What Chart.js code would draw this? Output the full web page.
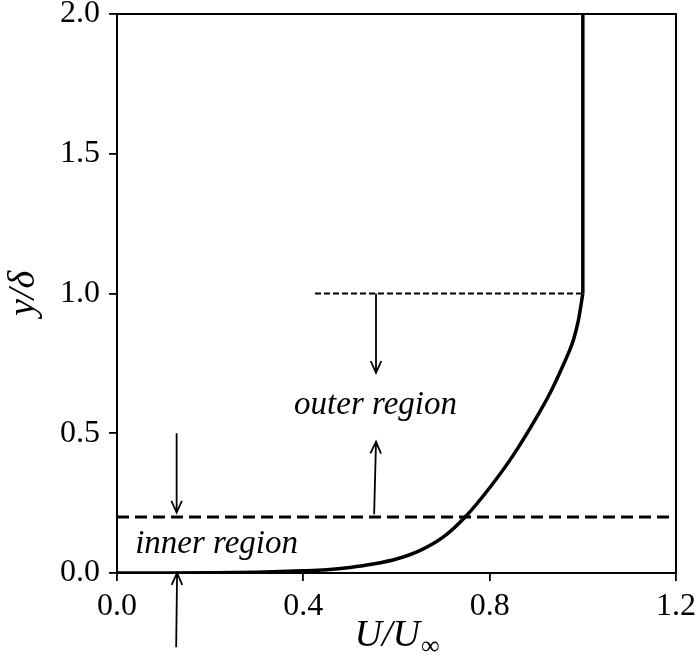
<!DOCTYPE html>
<html>
<head>
<meta charset="utf-8">
<script src="https://cdn.jsdelivr.net/npm/chart.js@4/dist/chart.umd.min.js"></script>
<style>
html, body { margin: 0; padding: 0; background: #fff; }
#wrap { width: 698px; height: 666px; }
</style>
</head>
<body>
<div id="wrap"><canvas id="chart"></canvas></div>
<script>
// mean velocity profile
const profileU = [0, 0.1, 0.2, 0.3, 0.4, 0.45, 0.5, 0.55, 0.6, 0.65, 0.7, 0.75, 0.8, 0.85, 0.9, 0.93, 0.95, 0.97, 0.98, 0.99, 1.0]
const profileY = [0, 0.0002, 0.001, 0.003, 0.008, 0.012, 0.02, 0.032, 0.05, 0.08, 0.128, 0.205, 0.305, 0.42, 0.555, 0.645, 0.715, 0.79, 0.835, 0.9, 1.0]
// free stream above the boundary layer edge
const edgeU = [1.0, 1.0]
const edgeY = [1.0, 2.0]
// thin dashed line at y/delta = 1 and thick dashed line at y/delta = 0.2
const outerU = [0.425, 1.0]
const outerY = [1.0, 1.0]
const innerU = [0, 1.2]
const innerY = [0.2, 0.2]

const xTicks = [0, 0.4, 0.8, 1.2]
const yTicks = [0, 0.5, 1.0, 1.5, 2.0]

// arrows, start -> tip, in data units
const arrowFromU = [0.556, 0.552, 0.128, 0.127]
const arrowFromY = [1.0, 0.21, 0.5, -0.266]
const arrowToU = [0.556, 0.556, 0.128, 0.129]
const arrowToY = [0.716, 0.47, 0.216, 0.0]

const labelText = ['outer region', 'inner region']
const labelU = [0.555, 0.039]
const labelY = [0.57, 0.07]
const labelAlign = ['center', 'left']

const serif = '"Liberation Serif", "DejaVu Serif", serif'

const zip = (xs, ys) => xs.map((x, i) => ({ x: x, y: ys[i] }))

// box round the axes, arrows, region labels and axis titles
const extras = {
    id: 'extras',
    afterDraw(chart) {
        const ctx = chart.ctx
        const a = chart.chartArea
        const sx = chart.scales.x
        const sy = chart.scales.y
        ctx.save()
        ctx.strokeStyle = '#000'
        ctx.fillStyle = '#000'
        ctx.lineWidth = 2
        ctx.strokeRect(a.left, a.top, a.right - a.left, a.bottom - a.top)

        // arrows
        ctx.lineWidth = 1.8
        for (let i = 0; i < arrowFromU.length; i++) {
            const x0 = sx.getPixelForValue(arrowFromU[i])
            const y0 = sy.getPixelForValue(arrowFromY[i])
            const x1 = sx.getPixelForValue(arrowToU[i])
            const y1 = sy.getPixelForValue(arrowToY[i])
            const ang = Math.atan2(y1 - y0, x1 - x0)
            const len = 13, half = 0.42
            ctx.beginPath()
            ctx.moveTo(x0, y0)
            ctx.lineTo(x1, y1)
            ctx.moveTo(x1 - len * Math.cos(ang - half), y1 - len * Math.sin(ang - half))
            ctx.lineTo(x1, y1)
            ctx.lineTo(x1 - len * Math.cos(ang + half), y1 - len * Math.sin(ang + half))
            ctx.stroke()
        }

        // region labels
        ctx.font = 'italic 33px ' + serif
        ctx.textBaseline = 'alphabetic'
        for (let i = 0; i < labelText.length; i++) {
            ctx.textAlign = labelAlign[i]
            ctx.fillText(labelText[i], sx.getPixelForValue(labelU[i]), sy.getPixelForValue(labelY[i]))
        }

        // x title U/U∞ with subscript
        const big = 'italic 38px ' + serif
        const small = '26px ' + serif
        ctx.font = big
        const w1 = ctx.measureText('U/U').width
        ctx.font = small
        const w2 = ctx.measureText('∞').width
        const cx = (a.left + a.right) / 2
        const xs = cx - (w1 + w2) / 2
        ctx.textAlign = 'left'
        ctx.font = big
        ctx.fillText('U/U', xs, 646)
        ctx.font = small
        ctx.fillText('∞', xs + w1 + 1, 654)

        // y title
        ctx.translate(34, (a.top + a.bottom) / 2)
        ctx.rotate(-Math.PI / 2)
        ctx.textAlign = 'center'
        ctx.font = 'italic 38px ' + serif
        ctx.fillText('y/δ', 0, 0)
        ctx.restore()
    }
}

const tickGrid = { drawOnChartArea: false, drawTicks: true, tickLength: 8, color: '#000', lineWidth: 1.8 }

new Chart(document.getElementById('chart'), {
    type: 'line',
    data: {
        datasets: [
            { data: zip(profileU, profileY), borderColor: '#000', borderWidth: 3.5, pointRadius: 0, cubicInterpolationMode: 'monotone' },
            { data: zip(edgeU, edgeY), borderColor: '#000', borderWidth: 3.5, pointRadius: 0 },
            { data: zip(outerU, outerY), borderColor: '#000', borderWidth: 1.8, borderDash: [6, 3], pointRadius: 0 },
            { data: zip(innerU, innerY), borderColor: '#000', borderWidth: 3, borderDash: [12, 6], pointRadius: 0 }
        ]
    },
    options: {
        responsive: true,
        maintainAspectRatio: false,
        animation: false,
        layout: { padding: { left: 0, right: 22, top: 14, bottom: 0 } },
        plugins: { legend: { display: false }, tooltip: { enabled: false } },
        scales: {
            x: {
                type: 'linear', min: 0, max: 1.2,
                afterBuildTicks: s => { s.ticks = xTicks.map(v => ({ value: v })) },
                afterFit: s => { s.height = 93; s.paddingLeft = 0; s.paddingRight = 0 },
                ticks: { color: '#000', font: { family: serif, size: 32 }, padding: 6, maxRotation: 0, callback: v => v.toFixed(1) },
                grid: tickGrid,
                border: { display: false }
            },
            y: {
                type: 'linear', min: 0, max: 2,
                afterBuildTicks: s => { s.ticks = yTicks.map(v => ({ value: v })) },
                afterFit: s => { s.width = 117; s.paddingTop = 0; s.paddingBottom = 0 },
                ticks: { color: '#000', font: { family: serif, size: 32 }, padding: 9, callback: v => v.toFixed(1) },
                grid: tickGrid,
                border: { display: false }
            }
        }
    },
    plugins: [extras]
})
</script>
</body>
</html>
